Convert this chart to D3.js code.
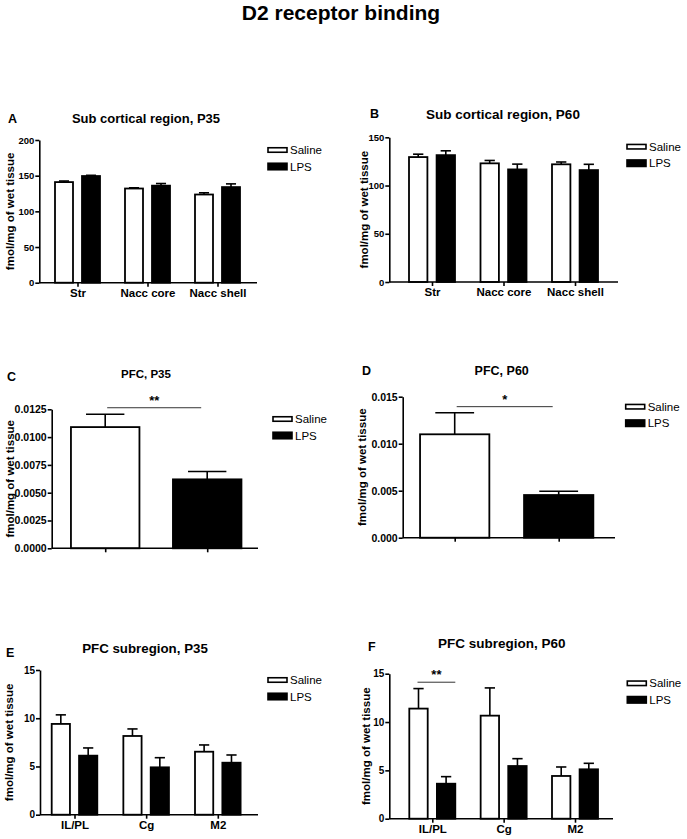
<!DOCTYPE html>
<html>
<head>
<meta charset="utf-8">
<script src="https://cdn.jsdelivr.net/npm/d3@7"></script>
<style>
  html, body { margin: 0; padding: 0; background: #fff; }
  svg { display: block; font-family: "Liberation Sans", Arial, Helvetica, sans-serif; }
</style>
</head>
<body>
<svg id="chart" width="687" height="839"></svg>
<script>
// ---------------- DATA ----------------
const seriesNames = ["Saline", "LPS"];
const subCats = ["Str", "Nacc core", "Nacc shell"];
const pfcCats = ["Saline", "LPS"];
const subregionCats = ["IL/PL", "Cg", "M2"];

// A: Sub cortical region, P35
const aSaline = [141, 132, 123.6];
const aSalineErr = [1.5, 1, 2.4];
const aLPS = [149.5, 136, 134];
const aLPSErr = [1, 3, 4.5];
// B: Sub cortical region, P60
const bSaline = [129.5, 123, 122];
const bSalineErr = [3, 3, 2.4];
const bLPS = [131.5, 116.7, 116];
const bLPSErr = [4.5, 5.5, 6];
// C: PFC, P35
const cValues = [0.0109, 0.0062];
const cErr = [0.00115, 0.0007];
// D: PFC, P60
const dValues = [0.0110, 0.00454];
const dErr = [0.0023, 0.0004];
// E: PFC subregion, P35
const eSaline = [9.41, 8.16, 6.53];
const eSalineErr = [0.94, 0.73, 0.7];
const eLPS = [6.12, 4.91, 5.39];
const eLPSErr = [0.8, 1.0, 0.8];
// F: PFC subregion, P60
const fSaline = [11.39, 10.66, 4.42];
const fSalineErr = [2.07, 2.87, 0.93];
const fLPS = [3.62, 5.45, 5.11];
const fLPSErr = [0.73, 0.76, 0.62];

// tick labels
const ticksA = [0, 50, 100, 150, 200];
const ticksB = [0, 50, 100, 150];
const ticksC = [0, 0.0025, 0.005, 0.0075, 0.01, 0.0125];
const ticksD = [0, 0.005, 0.01, 0.015];
const ticksEF = [0, 5, 10, 15];

const mainTitle = "D2 receptor binding";
const yLabel = "fmol/mg of wet tissue";

// significance markers
const sigC = { cat1: "Saline", cat2: "LPS", value: 0.01264, label: "**" };
const sigD = { cat1: "Saline", cat2: "LPS", value: 0.01394, label: "*" };
const sigF = { cat: "IL/PL", value: 14.12, label: "**" };

// ---------------- LAYOUT ----------------
const svg = d3.select("#chart");
const AXW = 1.6;

svg.append("text").attr("x", 341).attr("y", 20).attr("text-anchor", "middle")
  .attr("font-size", 21).attr("font-weight", "bold").text(mainTitle);

function grouped(cats, sal, salErr, lps, lpsErr) {
  return cats.map((c, i) => ({
    cat: c,
    bars: [
      { s: "Saline", v: sal[i], e: salErr[i] },
      { s: "LPS", v: lps[i], e: lpsErr[i] }
    ]
  }));
}
function single(cats, vals, errs) {
  return cats.map((c, i) => ({ cat: c, bars: [{ s: c, v: vals[i], e: errs[i] }] }));
}

const panels = [
  { letter: "A", lx: 8, ly: 122.5, title: "Sub cortical region, P35", tx: 146, ty: 122.5, tfs: 13,
    ax: 39.3, axEnd: 257, y0: 282.7, yTop: 140, yMax: 200, ticks: ticksA, fmt: d3.format("d"), tickFs: 9.5,
    cats: subCats, c1: 77.5, c2: 217.5, groupW: 45, data: grouped(subCats, aSaline, aSalineErr, aLPS, aLPSErr),
    showX: true, ylx: 10, legX: 268, legY: 150 },
  { letter: "B", lx: 370, ly: 118, title: "Sub cortical region, P60", tx: 503, ty: 119, tfs: 13.5,
    ax: 389.3, axEnd: 618, y0: 282, yTop: 137.3, yMax: 150, ticks: ticksB, fmt: d3.format("d"), tickFs: 9.5,
    cats: subCats, c1: 432, c2: 575, groupW: 46, data: grouped(subCats, bSaline, bSalineErr, bLPS, bLPSErr),
    showX: true, ylx: 364, legX: 627, legY: 146.7 },
  { letter: "C", lx: 7, ly: 381, title: "PFC, P35", tx: 146, ty: 377.5, tfs: 11.5,
    ax: 51.7, axEnd: 258, y0: 548.3, yTop: 409.3, yMax: 0.0125, ticks: ticksC, fmt: d3.format(".4f"), tickFs: 10.5,
    cats: pfcCats, c1: 105.2, c2: 207.2, barW: 68.5, data: single(pfcCats, cValues, cErr),
    showX: false, ylx: 10, legX: 273, legY: 419, sig: sigC },
  { letter: "D", lx: 362, ly: 374.5, title: "PFC, P60", tx: 501.7, ty: 374.5, tfs: 12.5,
    ax: 402.7, axEnd: 615, y0: 537.7, yTop: 396.7, yMax: 0.015, ticks: ticksD, fmt: d3.format(".3f"), tickFs: 10.5,
    cats: pfcCats, c1: 454.7, c2: 558.7, barW: 69.3, data: single(pfcCats, dValues, dErr),
    showX: false, ylx: 362, legX: 625.7, legY: 406.7, sig: sigD },
  { letter: "E", lx: 6, ly: 657, title: "PFC subregion, P35", tx: 145, ty: 652.5, tfs: 13.3,
    ax: 40, axEnd: 258, y0: 814.7, yTop: 670, yMax: 15, ticks: ticksEF, fmt: d3.format("d"), tickFs: 10,
    cats: subregionCats, c1: 74.5, c2: 217.8, groupW: 45.6, data: grouped(subregionCats, eSaline, eSalineErr, eLPS, eLPSErr),
    showX: true, ylx: 9, legX: 268, legY: 680 },
  { letter: "F", lx: 368, ly: 651, title: "PFC subregion, P60", tx: 501.7, ty: 648, tfs: 13.5,
    ax: 389.3, axEnd: 613, y0: 818.7, yTop: 673.7, yMax: 15, ticks: ticksEF, fmt: d3.format("d"), tickFs: 10,
    cats: subregionCats, c1: 432.3, c2: 575, groupW: 46, data: grouped(subregionCats, fSaline, fSalineErr, fLPS, fLPSErr),
    showX: true, ylx: 366, legX: 627.3, legY: 683.3, sigF: sigF }
];

function drawPanel(p) {
  const g = svg.append("g");
  const y = d3.scaleLinear().domain([0, p.yMax]).range([p.y0, p.yTop]);
  const x0 = d3.scalePoint().domain(p.cats).range([p.c1, p.c2]);
  const x1 = d3.scaleBand().domain(seriesNames).range([-p.groupW / 2, p.groupW / 2]).paddingInner(1 / 3);

  g.append("text").attr("x", p.lx).attr("y", p.ly).attr("font-size", 12.5).attr("font-weight", "bold").text(p.letter);
  g.append("text").attr("x", p.tx).attr("y", p.ty).attr("text-anchor", "middle")
    .attr("font-size", p.tfs).attr("font-weight", "bold").text(p.title);

  const barGeom = (d, b) => {
    if (p.barW) {
      const cx = x0(d.cat);
      return { x: cx - p.barW / 2, w: p.barW };
    }
    return { x: x0(d.cat) + x1(b.s), w: x1.bandwidth() };
  };
  p.data.forEach(d => {
    d.bars.forEach(b => {
      const gm = barGeom(d, b);
      const cx = gm.x + gm.w / 2;
      const capHalf = gm.w * 0.28;
      g.append("line").attr("x1", cx).attr("x2", cx).attr("y1", y(b.v)).attr("y2", y(b.v + b.e))
        .attr("stroke", "#000").attr("stroke-width", 1.6);
      g.append("line").attr("x1", cx - capHalf).attr("x2", cx + capHalf).attr("y1", y(b.v + b.e)).attr("y2", y(b.v + b.e))
        .attr("stroke", "#000").attr("stroke-width", 1.6);
      g.append("rect").attr("x", gm.x).attr("y", y(b.v)).attr("width", gm.w).attr("height", p.y0 - y(b.v))
        .attr("fill", b.s === "LPS" ? "#000" : "#fff").attr("stroke", "#000").attr("stroke-width", 1.8);
    });
  });

  const ya = g.append("g").attr("transform", `translate(${p.ax},0)`)
    .call(d3.axisLeft(y).tickValues(p.ticks).tickFormat(p.fmt).tickSize(4).tickSizeOuter(0).tickPadding(1));
  ya.select(".domain").attr("stroke-width", AXW);
  ya.selectAll(".tick line").attr("stroke-width", AXW);
  ya.selectAll(".tick text").attr("font-size", p.tickFs).attr("font-weight", "bold")
    .attr("font-family", "Liberation Sans, Arial, sans-serif").attr("fill", "#000");

  g.append("line").attr("x1", p.ax).attr("x2", p.axEnd).attr("y1", p.y0).attr("y2", p.y0)
    .attr("stroke", "#000").attr("stroke-width", AXW);
  const xa = g.append("g").attr("transform", `translate(0,${p.y0})`)
    .call(d3.axisBottom(x0).tickSize(4).tickSizeOuter(0).tickPadding(2));
  xa.select(".domain").remove();
  xa.selectAll(".tick line").attr("stroke-width", AXW);
  xa.selectAll(".tick text").attr("font-size", 11.5).attr("font-weight", "bold")
    .attr("font-family", "Liberation Sans, Arial, sans-serif").attr("fill", "#000")
    .style("display", p.showX ? null : "none");

  g.append("text").attr("transform", `translate(${p.ylx + 4},${(p.y0 + p.yTop) / 2}) rotate(-90)`)
    .attr("text-anchor", "middle").attr("font-size", 11.5).attr("font-weight", "bold").text(yLabel);

  const leg = g.append("g");
  seriesNames.forEach((s, i) => {
    const cy = p.legY + i * 16.5;
    const h = s === "LPS" ? 6.5 : 4.5;
    leg.append("rect").attr("x", p.legX).attr("y", cy - h / 2).attr("width", 19).attr("height", h)
      .attr("fill", s === "LPS" ? "#000" : "#fff").attr("stroke", "#000").attr("stroke-width", 1.6);
    leg.append("text").attr("x", p.legX + 22).attr("y", cy + 4).attr("font-size", 11.5).text(s);
  });

  if (p.sig) {
    const yy = y(p.sig.value);
    const xa1 = x0(p.sig.cat1) + 2, xa2 = x0(p.sig.cat2) - 6;
    g.append("line").attr("x1", xa1).attr("x2", xa2).attr("y1", yy).attr("y2", yy)
      .attr("stroke", "#333").attr("stroke-width", 1);
    g.append("text").attr("x", (xa1 + xa2) / 2).attr("y", yy - 3).attr("text-anchor", "middle")
      .attr("font-size", 13).attr("font-weight", "bold").text(p.sig.label);
  }
  if (p.sigF) {
    const yy = y(p.sigF.value);
    const xa1 = x0(p.sigF.cat) + x1("Saline") + x1.bandwidth() / 2 - 1;
    const xa2 = x0(p.sigF.cat) + x1("LPS") + x1.bandwidth();
    g.append("line").attr("x1", xa1).attr("x2", xa2).attr("y1", yy).attr("y2", yy)
      .attr("stroke", "#333").attr("stroke-width", 1);
    g.append("text").attr("x", (xa1 + xa2) / 2).attr("y", yy - 3).attr("text-anchor", "middle")
      .attr("font-size", 13).attr("font-weight", "bold").text(p.sigF.label);
  }
}

panels.forEach(drawPanel);
</script>
</body>
</html>
